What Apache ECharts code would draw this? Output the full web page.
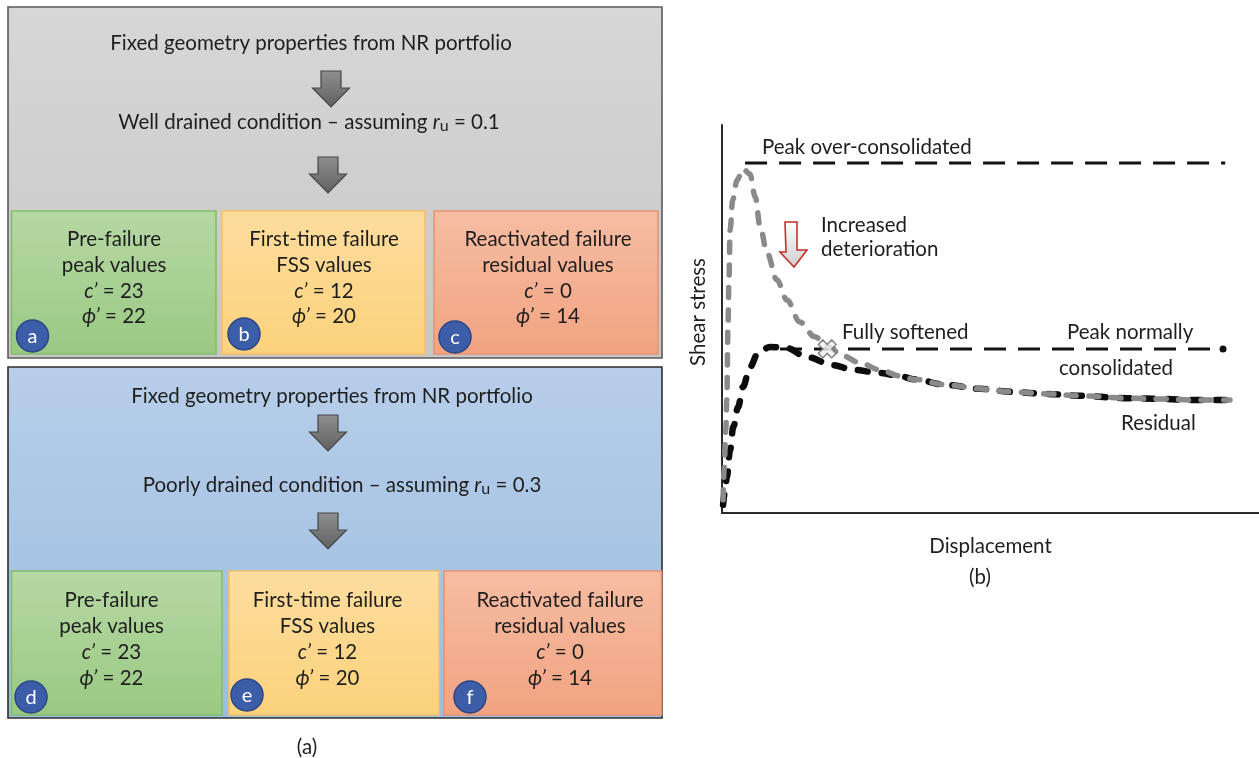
<!DOCTYPE html>
<html>
<head>
<meta charset="utf-8">
<script src="https://cdn.jsdelivr.net/npm/echarts@6/dist/echarts.min.js"></script>
<style>
  html, body { margin: 0; padding: 0; background: #ffffff; }
  #chart { width: 1259px; height: 758px; }
</style>
</head>
<body>
<div id="chart"></div>
<script>
// ---------- (a) strength parameter cases ----------
const stageTitles = ['Pre-failure\npeak values', 'First-time failure\nFSS values', 'Reactivated failure\nresidual values'];
const cohesionValues = [23, 12, 0];      // c'
const frictionAngles = [22, 20, 14];     // phi'
const drainageLabels = ['Well drained condition', 'Poorly drained condition'];
const ruValues = [0.1, 0.3];
const caseLetters = [['a', 'b', 'c'], ['d', 'e', 'f']];
const headerText = 'Fixed geometry properties from NR portfolio';

// ---------- (b) shear stress vs displacement (relative units 0-100) ----------
const overConsolidatedCurve = [
  [0.2, 3.4], [0.4, 11.1], [0.7, 21.4], [0.9, 29.1], [1.1, 47.2], [1.3, 60.1],
  [1.5, 72.9], [2.0, 80.7], [2.8, 85.8], [3.9, 88.7], [5.2, 87.4], [6.2, 81.4],
  [7.1, 73.7], [8.4, 67.0], [10.2, 60.1], [12.1, 54.9], [14.5, 49.2], [17.3, 45.4],
  [19.6, 43.0], [22.5, 40.5], [25.7, 38.7], [29.4, 36.9], [33.2, 35.3], [35.6, 34.5],
  [41.9, 33.0], [48.0, 32.0], [54.2, 31.2], [60.5, 30.7], [66.7, 30.2], [75.4, 29.6],
  [81.6, 29.4], [87.7, 29.1], [94.6, 29.1]
];
const normallyConsolidatedCurve = [
  [0.2, 2.1], [0.6, 5.9], [0.9, 9.3], [1.5, 16.2], [2.1, 22.2], [3.0, 27.3],
  [3.9, 32.5], [5.2, 37.6], [6.7, 41.2], [8.9, 42.8], [12.1, 42.5], [15.8, 40.2],
  [20.7, 38.1], [24.4, 36.9], [29.4, 36.1], [33.2, 35.3], [35.6, 34.5], [41.9, 33.0],
  [48.0, 32.0], [54.2, 31.2], [60.5, 30.7], [66.7, 30.2], [75.4, 29.6], [81.6, 29.4],
  [87.7, 29.1], [93.7, 29.1]
];
const peakOverConsolidated = [[4.3, 90.2], [93.7, 90.2]];
const peakNormallyConsolidated = [[10.8, 42.3], [93.3, 42.3]];
const fullySoftenedPoint = [19.6, 42.3];

const FONT = 'Lato';
const FS = 20.5;
const TEXT = '#1e1e1e';

function vgrad(c0, c1) {
  return new echarts.graphic.LinearGradient(0, 0, 0, 1, [
    { offset: 0, color: c0 }, { offset: 1, color: c1 }
  ]);
}

function downArrow(cx, top, z) {
  const sw = 10, hw = 18.5, sh = 17, h = 36;
  return {
    type: 'polygon', z: z || 4,
    shape: { points: [
      [cx - sw, top], [cx + sw, top], [cx + sw, top + sh], [cx + hw, top + sh],
      [cx, top + h], [cx - hw, top + sh], [cx - sw, top + sh]
    ] },
    style: { fill: vgrad('#8f8f8f', '#5f5f5f'), stroke: '#474747', lineWidth: 1.2 }
  };
}

function label(x, y, text, opts) {
  opts = opts || {};
  return {
    type: 'text', x: x, y: y, z: opts.z || 6, rotation: opts.rotation || 0,
    style: {
      text: text, fill: opts.fill || TEXT,
      fontFamily: FONT, fontSize: opts.fontSize || FS,
      align: opts.align || 'center', verticalAlign: 'middle',
      lineHeight: opts.lineHeight || 26, rich: opts.rich
    }
  };
}

const richBase = {
  n: { fontFamily: FONT, fontSize: FS, fill: TEXT, lineHeight: 24 },
  i: { fontFamily: FONT, fontSize: FS, fill: TEXT, fontStyle: 'italic', lineHeight: 24 },
  s: { fontFamily: FONT, fontSize: 16, fill: TEXT, lineHeight: 10, verticalAlign: 'bottom' }
};

// Layout of the two case panels in panel (a)
const panels = [
  {
    y: 7, h: 351, fill: ['#d7d7d7', '#c7c7c7'], stroke: '#5b5b5b',
    line1: [311, 43], arrow1: [331, 71], line2: [309, 122], arrow2: [328, 157],
    boxY: 211, boxH: 143,
    boxes: [[11.5, 204.5], [222, 203], [434, 224]],
    textX: [114, 324, 548], textY: 278,
    circles: [[32.5, 336], [244, 334], [455, 337]]
  },
  {
    y: 367, h: 351, fill: ['#b7cee9', '#9cbce1'], stroke: '#2e2e2e',
    line1: [332, 396], arrow1: [328, 415], line2: [342, 485], arrow2: [328, 513],
    boxY: 571, boxH: 144,
    boxes: [[11.5, 210.5], [229, 210], [444, 217.5]],
    textX: [111.5, 327.5, 560], textY: 639.5,
    circles: [[31, 697], [247, 695], [470, 697]]
  }
];
const boxFills = [['#b6d8a4', '#9ac983'], ['#fddd9f', '#fcd27b'], ['#f6bda3', '#f1a381']];
const boxStrokes = ['#84bd6a', '#f5c066', '#e99471'];

const graphics = [];
panels.forEach(function (p, k) {
  graphics.push({
    type: 'rect', z: 1,
    shape: { x: 8, y: p.y, width: 654, height: p.h },
    style: { fill: vgrad(p.fill[0], p.fill[1]), stroke: p.stroke, lineWidth: 1.6 }
  });
  graphics.push(label(p.line1[0], p.line1[1], headerText));
  graphics.push(downArrow(p.arrow1[0], p.arrow1[1]));
  graphics.push(label(p.line2[0], p.line2[1],
    '{n|' + drainageLabels[k] + ' \u2013 assuming }{i|r}{s|u}{n| = ' + ruValues[k].toFixed(1) + '}',
    { rich: richBase }));
  graphics.push(downArrow(p.arrow2[0], p.arrow2[1]));
  p.boxes.forEach(function (b, j) {
    graphics.push({
      type: 'rect', z: 2,
      shape: { x: b[0], y: p.boxY, width: b[1], height: p.boxH },
      style: { fill: vgrad(boxFills[j][0], boxFills[j][1]), stroke: boxStrokes[j], lineWidth: 1.6 }
    });
    const t = stageTitles[j].split('\n');
    const txt = '{n|' + t[0] + '}\n{n|' + t[1] + '}\n{i|c\u2019}{n| = ' + cohesionValues[j] +
      '}\n{i|\u03d5\u2019}{n| = ' + frictionAngles[j] + '}';
    graphics.push(label(p.textX[j], p.textY, txt, {
      rich: {
        n: { fontFamily: FONT, fontSize: FS, fill: TEXT, lineHeight: 25.8 },
        i: { fontFamily: FONT, fontSize: FS, fill: TEXT, fontStyle: 'italic', lineHeight: 25.8 }
      }
    }));
    const c = p.circles[j];
    graphics.push({
      type: 'circle', z: 7,
      shape: { cx: c[0], cy: c[1], r: 16 },
      style: { fill: '#3c5da7', stroke: '#2b4684', lineWidth: 1.5 }
    });
    graphics.push(label(c[0], c[1] + 1, caseLetters[k][j], { fill: '#ffffff', fontSize: 20, z: 8 }));
  });
});
graphics.push(label(307, 747, '(a)'));

// Panel (b) annotations
graphics.push(label(762, 147, 'Peak over-consolidated', { align: 'left' }));
graphics.push(label(821, 237, 'Increased\ndeterioration', { align: 'left', lineHeight: 24 }));
graphics.push(label(842, 332, 'Fully softened', { align: 'left' }));
graphics.push(label(1067, 332, 'Peak normally', { align: 'left' }));
graphics.push(label(1059, 368, 'consolidated', { align: 'left' }));
graphics.push(label(1121, 423, 'Residual', { align: 'left' }));
graphics.push(label(980, 577, '(b)'));
graphics.push({
  type: 'polygon', z: 6,
  shape: { points: [[785, 222], [797, 222], [797, 250], [807, 250], [794, 267], [780, 252], [786, 252]] },
  style: { fill: vgrad('#ffffff', '#cfcfcf'), stroke: '#c2332a', lineWidth: 1.6 }
});

const crossPath = 'path://M-1,-3L1,-3L1,-1L3,-1L3,1L1,1L1,3L-1,3L-1,1L-3,1L-3,-1L-1,-1Z';

const chart = echarts.init(document.getElementById('chart'), null, { renderer: 'canvas' });
chart.setOption({
  backgroundColor: '#ffffff',
  animation: false,
  grid: { left: 722, top: 125, right: 0, bottom: 245 },
  xAxis: {
    type: 'value', min: 0, max: 100,
    axisLine: { show: true, onZero: false, lineStyle: { color: '#2a2a2a', width: 2 } },
    axisTick: { show: false }, axisLabel: { show: false }, splitLine: { show: false },
    name: 'Displacement', nameLocation: 'middle', nameGap: 23,
    nameTextStyle: { fontFamily: FONT, fontSize: FS, color: TEXT }
  },
  yAxis: {
    type: 'value', min: 0, max: 100,
    axisLine: { show: true, onZero: false, lineStyle: { color: '#2a2a2a', width: 2 } },
    axisTick: { show: false }, axisLabel: { show: false }, splitLine: { show: false },
    name: 'Shear stress', nameLocation: 'middle', nameRotate: 90, nameGap: 13,
    nameTextStyle: { fontFamily: FONT, fontSize: FS, color: TEXT, padding: [0, 0, 0, 14] }
  },
  series: [
    {
      name: 'Peak over-consolidated', type: 'line', data: peakOverConsolidated,
      symbol: 'none', z: 2,
      lineStyle: { color: '#111', width: 3, type: [22, 12] }
    },
    {
      name: 'Peak normally consolidated', type: 'line', symbol: 'none', z: 2,
      data: [peakNormallyConsolidated[0],
        { value: peakNormallyConsolidated[1], symbol: 'circle', symbolSize: 7, itemStyle: { color: '#111' } }],
      lineStyle: { color: '#111', width: 3, type: [22, 12] }
    },
    {
      name: 'Normally consolidated', type: 'line', data: normallyConsolidatedCurve,
      symbol: 'none', smooth: 0.35, smoothMonotone: 'x', z: 3,
      lineStyle: { color: '#0d0d0d', width: 6.5, type: [10, 14], cap: 'round' }
    },
    {
      name: 'Over-consolidated', type: 'line', data: overConsolidatedCurve,
      symbol: 'none', smooth: 0.35, smoothMonotone: 'x', z: 4,
      lineStyle: { color: '#8a8a8a', width: 5.5, type: [10, 12.5], cap: 'round' }
    },
    {
      name: 'Fully softened', type: 'scatter', data: [fullySoftenedPoint], z: 5,
      symbol: crossPath, symbolSize: 19, symbolRotate: 45,
      itemStyle: { color: '#f4f4f4', borderColor: '#6f6f6f', borderWidth: 1.5 }
    }
  ],
  graphic: graphics
});
</script>
</body>
</html>
